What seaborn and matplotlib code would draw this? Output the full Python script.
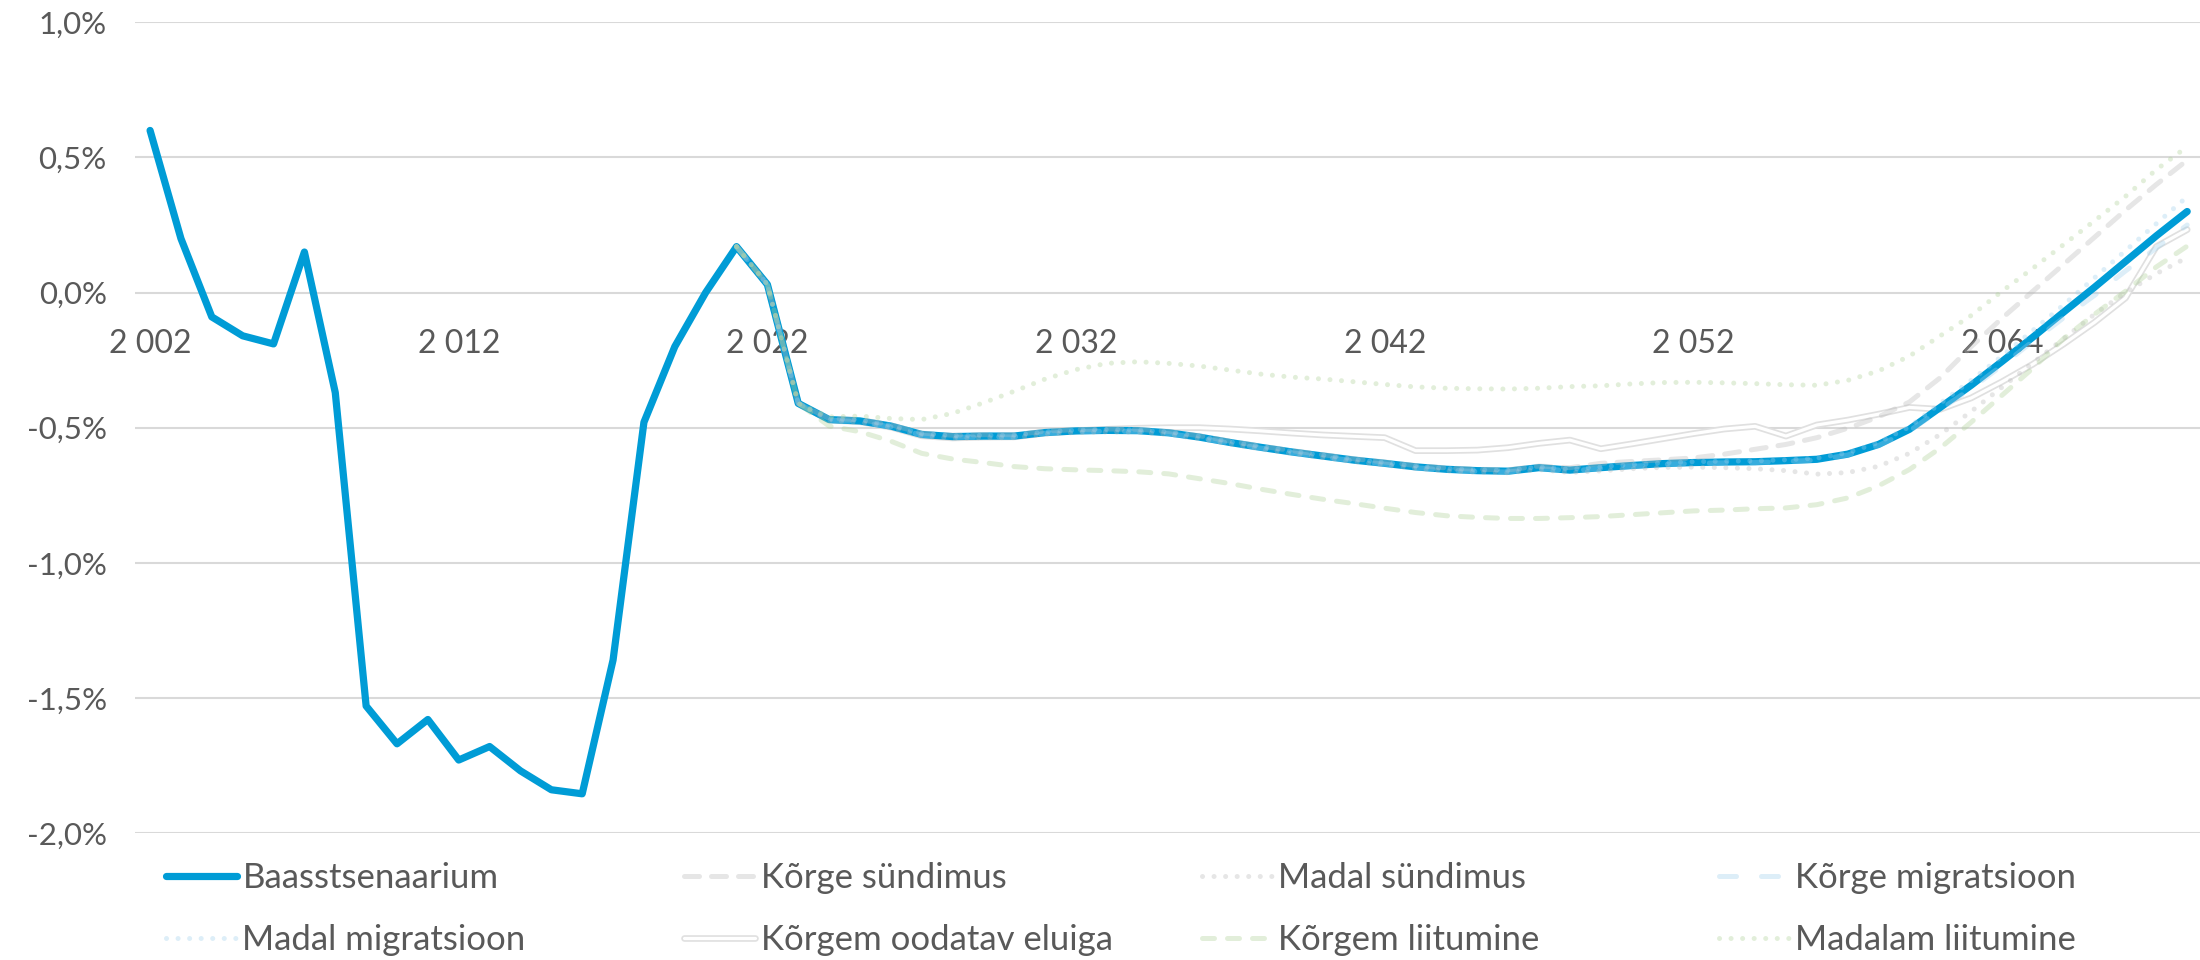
import matplotlib
matplotlib.use("Agg")
import numpy as np
import matplotlib.pyplot as plt
import matplotlib.patheffects as pe
import seaborn as sns

# category axis (years); one tick label every 10 categories
years = list(range(2002, 2062)) + list(range(2064, 2071))
start = 19  # scenarios start here (2021)

baasstsenaarium = [0.60, 0.20, -0.09, -0.16, -0.19, 0.15, -0.37, -1.53, -1.67, -1.58,
                   -1.73, -1.68, -1.77, -1.84, -1.855, -1.36, -0.48, -0.20, 0.00, 0.17,
                   0.03, -0.41, -0.47, -0.475, -0.494, -0.525, -0.533, -0.531, -0.531, -0.518,
                   -0.512, -0.51, -0.511, -0.519, -0.535, -0.555, -0.573, -0.59, -0.605, -0.62,
                   -0.632, -0.645, -0.654, -0.659, -0.661, -0.648, -0.657, -0.648, -0.640, -0.633,
                   -0.629, -0.627, -0.626, -0.622, -0.617, -0.598, -0.562, -0.506, -0.425, -0.343,
                   -0.255, -0.165, -0.072, 0.02, 0.115, 0.21, 0.30]

korge_sundimus = [0.17, 0.03, -0.41, -0.466, -0.47, -0.489, -0.52, -0.528, -0.526, -0.526,
                  -0.513, -0.507, -0.505, -0.506, -0.514, -0.53, -0.55, -0.568, -0.585, -0.6,
                  -0.615, -0.627, -0.64, -0.649, -0.654, -0.656, -0.642, -0.648, -0.632, -0.625,
                  -0.619, -0.612, -0.598, -0.58, -0.562, -0.537, -0.502, -0.46, -0.405, -0.315,
                  -0.2, -0.095, 0.005, 0.105, 0.205, 0.305, 0.4, 0.49]
madal_sundimus = [0.17, 0.03, -0.41, -0.474, -0.48, -0.499, -0.531, -0.539, -0.537, -0.537,
                  -0.524, -0.518, -0.516, -0.517, -0.525, -0.541, -0.561, -0.579, -0.596, -0.611,
                  -0.626, -0.638, -0.651, -0.66, -0.665, -0.667, -0.655, -0.666, -0.66, -0.652,
                  -0.647, -0.646, -0.648, -0.652, -0.659, -0.672, -0.666, -0.643, -0.595, -0.525,
                  -0.44, -0.35, -0.26, -0.17, -0.08, 0.0, 0.07, 0.13]
korge_migratsioon = [0.17, 0.03, -0.41, -0.472, -0.478, -0.497, -0.528, -0.536, -0.534, -0.534,
                     -0.521, -0.515, -0.513, -0.514, -0.522, -0.538, -0.558, -0.576, -0.593, -0.608,
                     -0.623, -0.635, -0.648, -0.657, -0.662, -0.664, -0.651, -0.66, -0.651, -0.643,
                     -0.636, -0.632, -0.63, -0.629, -0.625, -0.62, -0.601, -0.566, -0.512, -0.433,
                     -0.355, -0.27, -0.18, -0.093, -0.01, 0.08, 0.165, 0.25]
madal_migratsioon = [0.17, 0.03, -0.41, -0.467, -0.472, -0.491, -0.522, -0.53, -0.528, -0.528,
                     -0.515, -0.509, -0.507, -0.508, -0.516, -0.532, -0.552, -0.57, -0.587, -0.602,
                     -0.617, -0.629, -0.642, -0.651, -0.656, -0.658, -0.645, -0.654, -0.645, -0.637,
                     -0.63, -0.626, -0.624, -0.623, -0.619, -0.613, -0.593, -0.555, -0.497, -0.41,
                     -0.325, -0.235, -0.14, -0.045, 0.055, 0.155, 0.255, 0.355]
korgem_eluiga = [0.17, 0.03, -0.41, -0.472, -0.478, -0.498, -0.53, -0.538, -0.535, -0.534,
                 -0.52, -0.512, -0.506, -0.502, -0.5, -0.5, -0.505, -0.512, -0.52, -0.527,
                 -0.532, -0.537, -0.585, -0.585, -0.583, -0.574, -0.558, -0.546, -0.578, -0.56,
                 -0.541, -0.522, -0.505, -0.495, -0.531, -0.49, -0.472, -0.45, -0.425, -0.432,
                 -0.39, -0.33, -0.265, -0.19, -0.11, -0.02, 0.17, 0.233]
korgem_liitumine = [0.17, 0.03, -0.41, -0.494, -0.515, -0.55, -0.595, -0.616, -0.629, -0.644,
                    -0.652, -0.656, -0.659, -0.663, -0.671, -0.689, -0.707, -0.728, -0.747, -0.765,
                    -0.781, -0.798, -0.814, -0.826, -0.832, -0.836, -0.836, -0.833, -0.829, -0.822,
                    -0.815, -0.808, -0.805, -0.8, -0.797, -0.785, -0.76, -0.715, -0.655, -0.575,
                    -0.48, -0.38, -0.28, -0.17, -0.08, 0.005, 0.095, 0.172]
madalam_liitumine = [0.17, 0.03, -0.41, -0.46, -0.457, -0.466, -0.47, -0.447, -0.408, -0.365,
                     -0.32, -0.285, -0.262, -0.256, -0.262, -0.272, -0.287, -0.302, -0.313, -0.32,
                     -0.33, -0.34, -0.349, -0.354, -0.356, -0.357, -0.354, -0.348, -0.345, -0.338,
                     -0.333, -0.332, -0.334, -0.337, -0.341, -0.343, -0.325, -0.29, -0.235, -0.16,
                     -0.085, 0.005, 0.09, 0.178, 0.266, 0.356, 0.455, 0.54]

y_ticks = [-2.0, -1.5, -1.0, -0.5, 0.0, 0.5, 1.0]

sns.set_theme(style="white")
plt.rcParams['font.family'] = ['Lato', 'DejaVu Sans']
plt.rcParams['text.color'] = '#595959'

TXT = '#595959'
BLUE = '#009cd6'
GRAY = '#b8b8b8'
GREEN = '#acd195'
LBLUE = '#9ecfeb'

fig = plt.figure(figsize=(22, 9.6), dpi=100)
ax = fig.add_axes([0.0612, 0.1323, 0.9400, 0.8444])

x_all = np.arange(len(years))
x_sc = x_all[start:]


def draw(x, y, name, color, lw, z, alpha=1.0, dashes=None):
    sns.lineplot(x=x, y=y, ax=ax, color=color, linewidth=lw, alpha=alpha,
                 zorder=z, legend=False)
    line = ax.lines[-1]
    line.set_label(name)
    line.set_solid_joinstyle('round')
    line.set_solid_capstyle('round')
    if dashes is not None:
        line.set_dashes(dashes)
        line.set_dash_capstyle('round')
    return line


h_base = draw(x_all, baasstsenaarium, 'Baasstsenaarium', BLUE, 5.2, 2)

# double (compound) line, kept under the base line
h_koe = draw(x_sc, korgem_eluiga, 'Kõrgem oodatav eluiga', 'white', 2.3, 1.8)
h_koe.set_path_effects([pe.Stroke(linewidth=4.8, foreground='#e0e0e0'), pe.Normal()])

A = 0.35
h_ks = draw(x_sc, korge_sundimus, 'Kõrge sündimus', GRAY, 3.6, 3, A, [3.0, 2.4])
h_ms = draw(x_sc, madal_sundimus, 'Madal sündimus', GRAY, 3.6, 3, A, [0.01, 2.3])
h_km = draw(x_sc, korge_migratsioon, 'Kõrge migratsioon', LBLUE, 3.6, 3, A, [3.4, 5.0])
h_mm = draw(x_sc, madal_migratsioon, 'Madal migratsioon', LBLUE, 3.6, 3, A, [0.01, 2.3])
h_kl = draw(x_sc, korgem_liitumine, 'Kõrgem liitumine', GREEN, 3.6, 3, A, [2.4, 2.6])
h_ml = draw(x_sc, madalam_liitumine, 'Madalam liitumine', GREEN, 3.6, 3, A, [0.01, 2.3])

# axes
ax.set_xlim(-0.5, len(years) - 0.5)
ax.set_ylim(-2.0, 1.0)
ax.set_yticks(y_ticks)
ax.set_yticklabels([f"{v:.1f}%".replace('.', ',') for v in y_ticks])
tick_pos = list(range(0, len(years), 10))
ax.set_xticks(tick_pos)
ax.set_xticklabels([f"{years[i]:,}".replace(',', ' ') for i in tick_pos])
ax.spines['bottom'].set_position(('data', 0))
for s in ax.spines.values():
    s.set_visible(False)
ax.tick_params(axis='x', length=0, pad=26, labelsize=23, labelcolor=TXT)
ax.tick_params(axis='y', length=0, pad=20, labelsize=22.5, labelcolor=TXT)
ax.yaxis.grid(True, color='#d9d9d9', linewidth=1.5)
ax.xaxis.grid(False)
ax.set_xlabel('')
ax.set_ylabel('')
ax.set_axisbelow(True)

# legend: 4 equally spaced columns, 2 rows
columns = [[h_base, h_mm], [h_ks, h_koe], [h_ms, h_kl], [h_km, h_ml]]
col_x = [0.0755, 0.311, 0.5464, 0.7814]
for hs, cx in zip(columns, col_x):
    fig.legend(handles=hs, labels=[h.get_label() for h in hs], loc='center left',
               bbox_to_anchor=(cx, 0.053), frameon=False, fontsize=25,
               handlelength=2.05, handletextpad=0.15, labelspacing=0.88,
               borderpad=0, borderaxespad=0, labelcolor=TXT)

fig.savefig('out.png', dpi=100)
